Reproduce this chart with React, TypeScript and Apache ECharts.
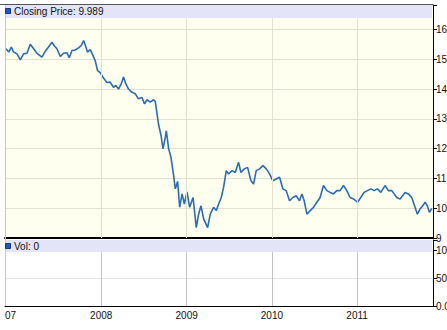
import React, { useEffect, useRef } from "react";
import * as echarts from "echarts";

// x positions as fractional years, closing prices
const dates = [
  2006.883, 2006.914, 2006.945, 2006.972, 2007.012, 2007.051, 2007.089, 2007.129, 2007.168, 2007.207,
  2007.246, 2007.305, 2007.344, 2007.382, 2007.422, 2007.449, 2007.481, 2007.52, 2007.558, 2007.598,
  2007.625, 2007.657, 2007.695, 2007.734, 2007.766, 2007.793, 2007.813, 2007.839, 2007.871, 2007.903,
  2007.93, 2007.957, 2007.988, 2008.027, 2008.067, 2008.105, 2008.144, 2008.172, 2008.203, 2008.234,
  2008.261, 2008.289, 2008.32, 2008.36, 2008.398, 2008.437, 2008.477, 2008.507, 2008.536, 2008.574,
  2008.613, 2008.633, 2008.653, 2008.672, 2008.7, 2008.723, 2008.75, 2008.762, 2008.789, 2008.817,
  2008.847, 2008.867, 2008.894, 2008.918, 2008.946, 2008.973, 2009.004, 2009.035, 2009.075, 2009.113,
  2009.14, 2009.168, 2009.199, 2009.246, 2009.277, 2009.316, 2009.348, 2009.375, 2009.406, 2009.433,
  2009.465, 2009.492, 2009.532, 2009.57, 2009.609, 2009.637, 2009.676, 2009.715, 2009.754, 2009.785,
  2009.816, 2009.855, 2009.895, 2009.934, 2009.972, 2010.012, 2010.051, 2010.09, 2010.129, 2010.168,
  2010.207, 2010.247, 2010.285, 2010.324, 2010.352, 2010.379, 2010.411, 2010.449, 2010.488, 2010.528,
  2010.566, 2010.605, 2010.645, 2010.684, 2010.722, 2010.762, 2010.801, 2010.84, 2010.879, 2010.918,
  2010.957, 2011.004, 2011.043, 2011.082, 2011.121, 2011.161, 2011.199, 2011.238, 2011.278, 2011.328,
  2011.367, 2011.407, 2011.465, 2011.504, 2011.563, 2011.601, 2011.641, 2011.68, 2011.707, 2011.738,
  2011.77, 2011.797, 2011.824, 2011.848, 2011.876,
];
const prices = [
  15.35, 15.24, 15.41, 15.24, 15.18, 14.98, 15.18, 15.2, 15.5, 15.35,
  15.2, 15.07, 15.27, 15.41, 15.57, 15.45, 15.35, 15.09, 15.2, 15.22,
  15.05, 15.29, 15.31, 15.38, 15.46, 15.63, 15.48, 15.24, 15.32, 15.13,
  14.95, 14.62, 14.55, 14.37, 14.22, 14.23, 14.06, 14.12, 14.0, 14.17,
  14.4, 14.17, 14.0, 13.89, 13.84, 13.67, 13.72, 13.5, 13.64, 13.56,
  13.64, 13.58, 13.17, 12.8, 12.44, 11.99, 12.38, 12.6, 12.0, 11.7,
  11.1, 10.65, 10.9, 10.03, 10.48, 10.14, 10.55, 10.03, 10.36, 9.35,
  9.8, 10.08, 9.64, 9.35, 9.8, 10.03, 9.92, 10.14, 10.36, 10.7,
  11.26, 11.15, 11.26, 11.2, 11.54, 11.2, 11.32, 11.37, 10.92, 10.81,
  11.26, 11.32, 11.43, 11.32, 11.15, 10.92, 10.98, 11.04, 10.65, 10.59,
  10.25, 10.36, 10.42, 10.25, 10.48, 10.25, 9.8, 9.92, 10.03, 10.2,
  10.36, 10.76, 10.59, 10.53, 10.48, 10.59, 10.59, 10.76, 10.59, 10.36,
  10.31, 10.2, 10.36, 10.53, 10.59, 10.65, 10.59, 10.65, 10.53, 10.76,
  10.59, 10.59, 10.36, 10.31, 10.53, 10.48, 10.36, 10.03, 9.8, 9.97,
  10.08, 10.2, 10.08, 9.86, 9.99,
];
const priceTicks = [9, 10, 11, 12, 13, 14, 15, 16];
const volumeTicks = [0, 50, 100];
const yearLabels = [2008, 2009, 2010, 2011];
const closingLabel = "Closing Price: 9.989";
const volumeLabel = "Vol: 0";

const FONT = "'Liberation Sans', Arial, sans-serif";

function yearToTs(y: number): number {
  const yr = Math.floor(y);
  const s = Date.UTC(yr, 0, 1);
  const e = Date.UTC(yr + 1, 0, 1);
  return s + (y - yr) * (e - s);
}

export default function App() {
  const ref = useRef<HTMLDivElement>(null);
  useEffect(() => {
    if (!ref.current) return;
    const chart = echarts.init(ref.current, undefined, { renderer: "svg" });
    const xMin = Date.UTC(2006, 10, 15);
    const xMax = Date.UTC(2011, 10, 22);
    const DAY = 86400000;
    const yearFmt = (v: number) => {
      const d = new Date(v);
      if (d.getUTCMonth() === 0 && d.getUTCDate() === 1 && d.getUTCHours() === 0) {
        const y = d.getUTCFullYear();
        return yearLabels.indexOf(y) >= 0 ? String(y) : "";
      }
      return "";
    };
    const data = dates.map((d, i) => [yearToTs(d), prices[i]]);
    const yearLines = (color: string) => ({
      symbol: "none",
      silent: true,
      label: { show: false },
      lineStyle: { color, type: "solid", width: 1 },
      emphasis: { disabled: true },
      data: yearLabels.map((y) => ({ xAxis: Date.UTC(y, 0, 1) })),
    });
    chart.setOption({
      animation: false,
      useUTC: true,
      backgroundColor: "#ffffff",
      textStyle: { fontFamily: FONT },
      grid: [
        { left: 5, top: 5, width: 428, height: 233, show: true, backgroundColor: "#fffff0", borderWidth: 0, outerBoundsMode: "none", containLabel: false },
        { left: 5, top: 240, width: 428, height: 66, show: true, backgroundColor: "#ffffff", borderWidth: 0, outerBoundsMode: "none", containLabel: false },
      ],
      xAxis: [
        {
          type: "time", gridIndex: 0, min: xMin, max: xMax,
          minInterval: 365 * DAY, maxInterval: 366 * DAY,
          axisLine: { show: true, lineStyle: { color: "#000", width: 2 } },
          axisTick: { show: false }, axisLabel: { show: false },
          splitLine: { show: false },
        },
        {
          type: "time", gridIndex: 1, min: xMin, max: xMax,
          minInterval: 365 * DAY, maxInterval: 366 * DAY,
          axisLine: { show: true, lineStyle: { color: "#000", width: 1 } },
          axisTick: { show: false },
          axisLabel: { formatter: yearFmt, fontSize: 10, color: "#111", margin: 4, fontFamily: FONT, hideOverlap: false },
          splitLine: { show: false },
        },
      ],
      yAxis: [
        {
          type: "value", gridIndex: 0, position: "right", min: 9, max: 16.82, interval: 1,
          axisLine: { show: true, lineStyle: { color: "#000" } },
          axisTick: { show: true, length: 4, inside: false, lineStyle: { color: "#000" } },
          axisLabel: {
            fontSize: 10, color: "#111", margin: 3, fontFamily: FONT,
            formatter: (v: number) => (priceTicks.some((t) => Math.abs(t - v) < 1e-6) ? String(Math.round(v)) : ""),
          },
          splitLine: { show: true, lineStyle: { color: "#e2e2d2" } },
        },
        {
          type: "value", gridIndex: 1, position: "right", min: 0, max: 117.9, interval: 50,
          axisLine: { show: true, lineStyle: { color: "#000" } },
          axisTick: { show: true, length: 4, lineStyle: { color: "#000" } },
          axisLabel: {
            fontSize: 10, color: "#111", margin: 3, fontFamily: FONT,
            formatter: (v: number) => {
              const t = volumeTicks.find((x) => Math.abs(x - v) < 1e-6);
              if (t === undefined) return "";
              return t === 0 ? "0.0" : String(t);
            },
          },
          splitLine: { show: true, lineStyle: { color: "#e8e8e8" } },
        },
      ],
      series: [
        {
          type: "line", xAxisIndex: 0, yAxisIndex: 0, data: [], z: 1,
          markLine: yearLines("#e2e2d2"),
        },
        {
          type: "line", xAxisIndex: 1, yAxisIndex: 1, data: [], z: 1,
          markLine: yearLines("#c4c4c4"),
        },
        {
          type: "line", xAxisIndex: 0, yAxisIndex: 0, data, z: 3,
          showSymbol: false, symbol: "none",
          lineStyle: { color: "#2c6cb4", width: 1.6 },
        },
      ],
      graphic: [
        { type: "rect", z: 100, shape: { x: 5, y: 5, width: 427, height: 13 }, style: { fill: "#e4e4f8" } },
        { type: "rect", z: 100, shape: { x: 5, y: 240, width: 427, height: 12 }, style: { fill: "#e4e4f8" } },
        { type: "line", z: 101, shape: { x1: 0, y1: 4.5, x2: 433, y2: 4.5 }, style: { stroke: "#555", lineWidth: 1 } },
        { type: "line", z: 101, shape: { x1: 5.5, y1: 5, x2: 5.5, y2: 306 }, style: { stroke: "#c8c8c8", lineWidth: 1 } },
        { type: "rect", z: 102, shape: { x: 5.5, y: 8.5, width: 5, height: 5 }, style: { fill: "#1f55c4", stroke: "#173a80", lineWidth: 1 } },
        { type: "rect", z: 102, shape: { x: 5.5, y: 243.5, width: 5, height: 5 }, style: { fill: "#1f55c4", stroke: "#173a80", lineWidth: 1 } },
        { type: "text", z: 102, x: 14, y: 11.5, style: { text: closingLabel, fontSize: 10, fill: "#111", fontFamily: FONT, verticalAlign: "middle" } },
        { type: "text", z: 102, x: 14, y: 246.5, style: { text: volumeLabel, fontSize: 10, fill: "#111", fontFamily: FONT, verticalAlign: "middle" } },
        { type: "text", z: 102, x: 5, y: 315, style: { text: "07", fontSize: 10, fill: "#111", fontFamily: FONT, verticalAlign: "middle" } },
      ],
    });
    return () => chart.dispose();
  }, []);
  return <div ref={ref} style={{ position: "fixed", left: 0, top: 0, width: 447, height: 330 }} />;
}
